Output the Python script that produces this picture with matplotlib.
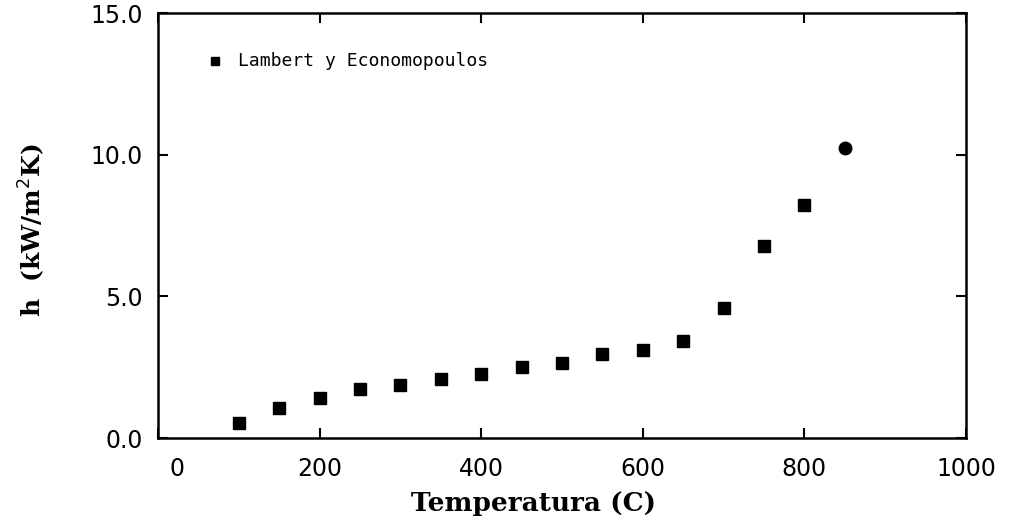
import matplotlib
matplotlib.use("Agg")
import matplotlib.pyplot as plt
import matplotlib.transforms as mtransforms
import numpy as np

# Data
temperatura = [100, 150, 200, 250, 300, 350, 400, 450, 500, 550, 600, 650, 700, 750, 800, 850]
h_values = [0.52, 1.05, 1.42, 1.74, 1.88, 2.07, 2.25, 2.51, 2.65, 2.97, 3.12, 3.43, 4.58, 6.79, 8.21, 10.23]
series_label = "Lambert y Economopoulos"
x_ticks = [0, 200, 400, 600, 800, 1000]
y_ticks = [0.0, 5.0, 10.0, 15.0]

fig = plt.figure(figsize=(10.10, 5.21), dpi=100)
ax = fig.add_axes([0.1564, 0.1593, 0.80, 0.8157])

ax.plot(temperatura[:-1], h_values[:-1], linestyle="none", marker="s",
        markersize=8, color="black")
ax.plot(temperatura[-1:], h_values[-1:], linestyle="none", marker="o",
        markersize=9, color="black")

ax.set_xlim(0, 1000)
ax.set_ylim(0, 15)
ax.set_xticks(x_ticks)
ax.set_yticks(y_ticks)
ax.set_xticklabels([str(v) for v in x_ticks], fontsize=17, family="DejaVu Sans")
ax.set_yticklabels([f"{v:.1f}" for v in y_ticks], fontsize=17, family="DejaVu Sans")

ax.tick_params(direction="in", length=7, width=1.5, top=True, right=True,
               colors="black")
ax.tick_params(axis="y", pad=11)
ax.tick_params(axis="x", pad=14)
for s in ax.spines.values():
    s.set_linewidth(1.8)

# shift the "0" x label right as in the reference
lab0 = ax.get_xticklabels()[0]
lab0.set_transform(lab0.get_transform() +
                   mtransforms.ScaledTranslation(0.19, 0, fig.dpi_scale_trans))

ax.set_xlabel("Temperatura (C)", fontsize=19, fontweight="bold",
              family="DejaVu Serif")
ax.xaxis.set_label_coords(0.465, -0.155)
ax.xaxis.label.set_va("center")
ax.set_ylabel("h  (kW/m$^2$K)", fontsize=18, fontweight="bold",
              family="DejaVu Serif")
ax.yaxis.label.set_va("center")
ax.yaxis.label.set_ha("center")
ax.yaxis.set_label_coords(-0.156, 0.49)

# legend entry
ax.plot([70], [13.3], linestyle="none", marker="s", markersize=6, color="black")
ax.text(0.099, 0.887, series_label, transform=ax.transAxes, fontsize=13,
        family="DejaVu Sans Mono", va="center", ha="left")

fig.savefig("out.png", dpi=100)
